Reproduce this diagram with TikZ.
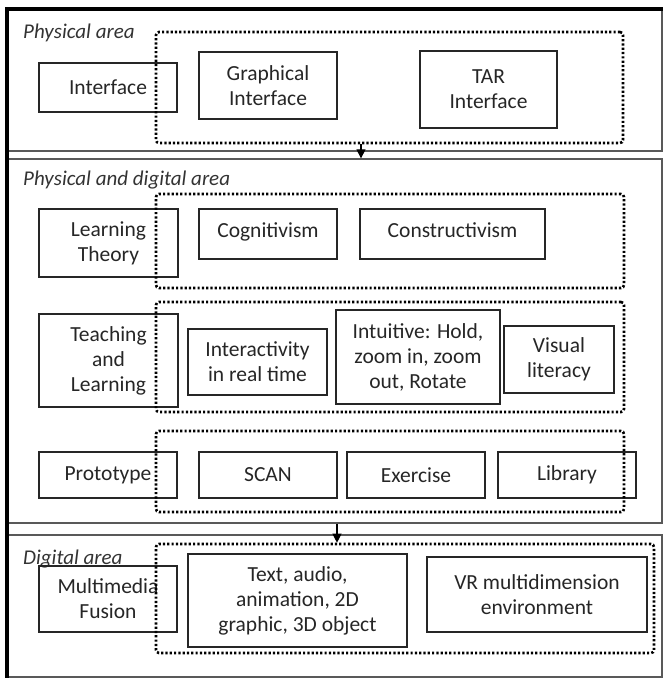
\documentclass[tikz,border=0pt]{standalone}
\usepackage{fontspec}
\setmainfont{Carlito}
\usetikzlibrary{arrows.meta}
\tikzset{
  bx/.style={draw=black!85, line width=1.3pt, align=center, inner sep=0pt,
    text=black!85, font=\fontsize{21.5}{25}\selectfont},
  dotbox/.style={draw=black, line width=2.6pt, dash pattern=on 2.2pt off 2.1pt,
    rounded corners=3pt, inner sep=0pt},
  panel/.style={draw=black!65, line width=1.3pt, inner sep=0pt},
  lbl/.style={font=\fontsize{21}{25}\selectfont\itshape, text=black!80,
    anchor=base west, inner sep=0pt},
  arr/.style={line width=1.1pt, -{Triangle[length=9pt,width=9pt]}},
  frame/.style={line width=4pt, draw=black},
}
\newcommand\mkbox[7]{%
  \node[#1, minimum width={(#5-#3)*1pt}, minimum height={(#6-#4)*1pt}]
    (#2) at ({(#3+#5)/2},{(#4+#6)/2}) {#7};}
\begin{document}
\begin{tikzpicture}[x=1pt,y=-1pt]
\useasboundingbox (0,0) rectangle (663,678);
% panels
\mkbox{panel}{p1}{8}{10}{662}{151}{}
\mkbox{panel}{p2}{8}{159}{662}{523}{}
\mkbox{panel}{p3}{8}{535}{662}{677}{}
% area labels
\node[lbl] (l1) at (23,38) {Physical area};
\node[lbl] (l2) at (23,185) {Physical and digital area};
\node[lbl] (l3) at (23,564) {Digital area};
% boxes
\mkbox{bx}{iface}{39}{63}{177}{112}{Interface}
\mkbox{bx}{gi}{199}{52}{337}{119}{Graphical\\Interface}
\mkbox{bx}{tar}{420}{51}{557}{128}{TAR\\Interface}
\mkbox{bx}{lt}{39}{209}{178}{277}{Learning\\Theory}
\mkbox{bx, text depth=8pt}{cog}{199}{209}{337}{259}{Cognitivism}
\mkbox{bx, text depth=8pt}{con}{360}{209}{545}{259}{Constructivism}
\mkbox{bx}{tl}{39}{314}{178}{407}{Teaching\\and\\Learning}
\mkbox{bx}{inter}{188}{329}{327}{395}{Interactivity\\in real time}
\mkbox{bx}{intu}{336}{310}{500}{404}{Intuitive: Hold,\\zoom in, zoom\\out, Rotate}
\mkbox{bx}{vis}{504}{326}{614}{393}{Visual\\literacy}
\mkbox{bx}{proto}{39}{452}{177}{498}{Prototype}
\mkbox{bx}{scan}{199}{452}{337}{498}{SCAN}
\mkbox{bx}{ex}{347}{452}{485}{498}{Exercise}
\mkbox{bx}{lib}{498}{452}{636}{498}{Library}
\mkbox{bx}{mm}{39}{566}{177}{632}{Multimedia\\Fusion}
\mkbox{bx}{txt}{188}{554}{407}{647}{Text, audio,\\animation, 2D\\graphic, 3D object}
\mkbox{bx}{vr}{427}{557}{647}{632}{VR multidimension\\environment}
% dotted groups
\mkbox{dotbox}{d1}{156}{32}{623}{143}{}
\mkbox{dotbox}{d2}{156}{194}{624}{288}{}
\mkbox{dotbox}{d3}{156}{302}{624}{412}{}
\mkbox{dotbox}{d4}{156}{431}{624}{512}{}
\mkbox{dotbox}{d5}{156}{544}{654}{653}{}
% arrows
\coordinate (a1) at (361,0);
\coordinate (a2) at (337,0);
\draw[arr] (d1.south -| a1) -- (p2.north -| a1);
\draw[arr] (p2.south -| a2) -- (d5.north -| a2);
% thick frame on left and top
\draw[frame] (p3.south west) -- (p1.north west) -- (p1.north east);
\end{tikzpicture}
\end{document}
